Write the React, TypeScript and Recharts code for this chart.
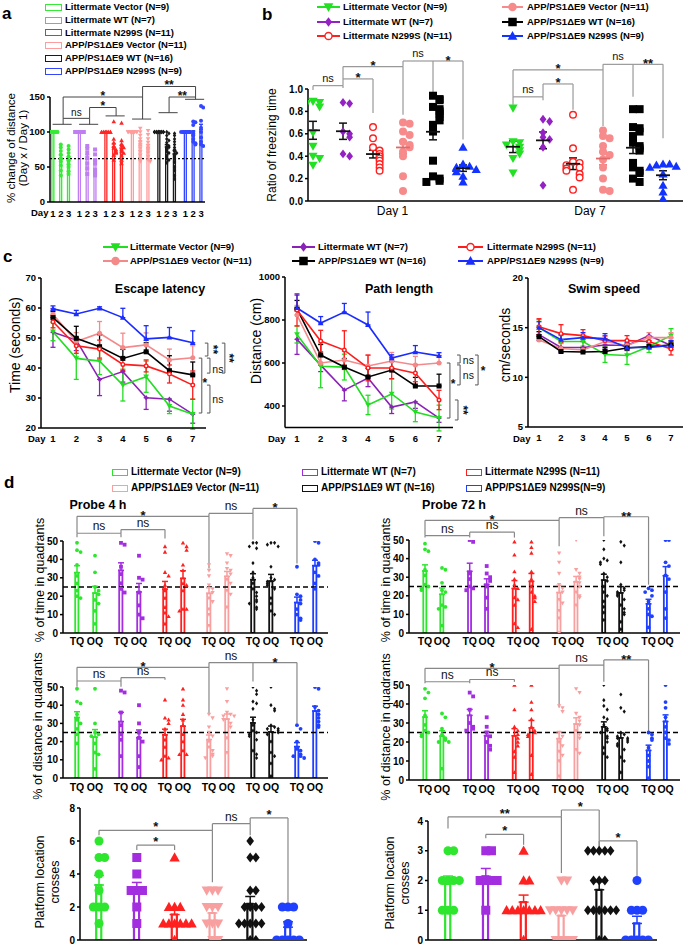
import React from 'react';
import {
  ComposedChart, Bar, Line, Scatter, XAxis, YAxis, ReferenceLine, ReferenceDot, ErrorBar, Cell,
} from 'recharts';

const FONT = '"Liberation Sans", Arial, Helvetica, sans-serif';
const AXIS = { stroke: '#000', strokeWidth: 1.5 };

// group order in every list: Littermate Vector, Littermate WT, Littermate N299S,
// APP/PS1ΔE9 Vector, APP/PS1ΔE9 WT, APP/PS1ΔE9 N299S
const groupLabels = [
  'Littermate Vector (N=9)',
  'Littermate WT (N=7)',
  'Littermate N299S (N=11)',
  'APP/PS1ΔE9 Vector (N=11)',
  'APP/PS1ΔE9 WT (N=16)',
  'APP/PS1ΔE9 N299S (N=9)',
];
const groupLabelsD = [...groupLabels.slice(0, 5), 'APP/PS1ΔE9 N299S(N=9)'];

const colA = ['#35ea35', '#bf7ff0', '#ff2626', '#ff9d9d', '#1a1a1a', '#3346ff'];
const colB = ['#22e022', '#9421c4', '#ff2020', '#f78b8b', '#000000', '#1232ff'];
const colC = ['#22dd22', '#8a22b8', '#ff1c1c', '#f4898a', '#000000', '#1a2cff'];
const colD = ['#2ee62e', '#a22ee0', '#ff2020', '#f8a0a0', '#111111', '#2040ff'];
const barMarks = ['circle', 'square', 'tri', 'triDown', 'diamond', 'circle'];
const lineMarks = ['triDown', 'diamond', 'ring', 'circle', 'square', 'tri'];

// ---- a: % change of distance (Day x / Day 1)
const aDayLabels = ['1', '2', '3'];
const aDay1 = [
  [100, 100, 100, 100, 100, 100, 100, 100, 100],
  [100, 100, 100, 100, 100, 100, 100],
  [100, 100, 100, 100, 100, 100, 100, 100, 100, 100, 100],
  [100, 100, 100, 100, 100, 100, 100, 100, 100, 100, 100],
  [100, 100, 100, 100, 100, 100, 100, 100, 100, 100, 100, 100, 100, 100, 100, 100],
  [100, 100, 100, 100, 100, 100, 100, 100, 100],
];
const aDay2 = [
  [82, 78, 73, 68, 63, 58, 52, 45, 38],
  [80, 76, 70, 63, 55, 48, 40],
  [115, 90, 85, 80, 77, 75, 73, 71, 70, 67, 60],
  [105, 100, 95, 90, 86, 82, 77, 72, 67, 62, 58],
  [100, 98, 95, 90, 88, 85, 82, 80, 78, 75, 72, 70, 66, 62, 60, 56],
  [115, 114, 110, 100, 95, 90, 86, 84, 82],
];
const aDay3 = [
  [80, 75, 70, 65, 59, 54, 50, 44, 40],
  [75, 68, 60, 55, 46, 42, 38],
  [113, 88, 83, 80, 78, 75, 72, 70, 66, 60, 55],
  [102, 96, 90, 85, 80, 77, 74, 70, 65, 60, 58],
  [98, 95, 90, 86, 82, 78, 75, 72, 70, 66, 62, 57, 50, 45, 38, 33],
  [137, 135, 116, 106, 100, 92, 86, 82, 80],
];
const aCaps = [111, 111, 123, 118.5, 127.6, 146.7];
const aBr = [
  [0, 1, 119.5, 111, 111, 'ns'],
  [1, 2, 135, 119.5, 123, '*'],
  [0, 3, 150, 119.5, 118.5, '*'],
  [3, 5, 165, 150, 150, '**'],
  [4, 5, 150, 127.6, 146.7, '**'],
];

// ---- b: ratio of freezing time
const bDayLabels = ['Day 1', 'Day 7'];
const bDay1 = [
  [0.89, 0.88, 0.87, 0.84, 0.61, 0.49, 0.40, 0.38, 0.32],
  [0.88, 0.87, 0.62, 0.60, 0.57, 0.42, 0.40],
  [0.66, 0.56, 0.48, 0.45, 0.42, 0.40, 0.38, 0.36, 0.33, 0.30, 0.27],
  [0.70, 0.69, 0.62, 0.59, 0.53, 0.50, 0.48, 0.44, 0.40, 0.22, 0.09],
  [0.94, 0.91, 0.90, 0.84, 0.82, 0.80, 0.78, 0.75, 0.72, 0.68, 0.62, 0.36, 0.22, 0.20, 0.18, 0.17],
  [0.48, 0.33, 0.31, 0.30, 0.29, 0.28, 0.26, 0.22, 0.17],
];
const bDay7 = [
  [0.83, 0.53, 0.52, 0.50, 0.48, 0.45, 0.42, 0.38, 0.25],
  [0.73, 0.71, 0.61, 0.57, 0.55, 0.48, 0.14],
  [0.77, 0.47, 0.35, 0.34, 0.32, 0.30, 0.29, 0.27, 0.24, 0.21, 0.10],
  [0.63, 0.58, 0.56, 0.49, 0.44, 0.41, 0.37, 0.30, 0.20, 0.10, 0.09],
  [0.82, 0.82, 0.66, 0.65, 0.62, 0.58, 0.52, 0.49, 0.47, 0.45, 0.34, 0.30, 0.27, 0.25, 0.20, 0.17],
  [0.33, 0.33, 0.32, 0.31, 0.30, 0.24, 0.14, 0.08, 0.02],
];
const bBr = [
  [0, 1, 1.03, 0.99, 1.01, 'ns'],
  [1, 2, 1.09, 1.03, 0.785, '*'],
  [1, 3, 1.2, 1.09, 0.77, '*'],
  [3, 4, 1.25, 1.2, 0.96, 'ns'],
  [4, 5, 1.25, 1.25, 0.55, '*'],
  [6.667, 7.667, 0.93, 0.86, 0.9, 'ns'],
  [7.667, 8.667, 1.045, 0.93, 0.815, '*'],
  [6.667, 9.667, 1.17, 0.93, 0.67, '*'],
  [9.667, 10.667, 1.22, 1.17, 0.93, 'ns'],
  [10.667, 11.667, 1.22, 1.22, 0.56, '**'],
];

// ---- c: water maze, days 1..7
const days = [1, 2, 3, 4, 5, 6, 7];
const errSide = ['both', 'down', 'both', 'up', 'up', 'up'];
const escMean = [
  [52.1, 43.2, 42.3, 34.3, 37.1, 27.3, 24.6],
  [51.9, 49.3, 36.2, 38.8, 30.1, 29.6, 24.6],
  [55.4, 47.4, 46.3, 41.2, 40.7, 38.0, 34.3],
  [57.9, 48.8, 51.6, 46.8, 47.7, 42.7, 43.4],
  [56.8, 49.9, 47.1, 43.2, 45.4, 39.1, 37.7],
  [59.7, 58.0, 59.9, 56.8, 49.7, 50.2, 48.4],
];
const escErr = [
  [3, 7, 4.5, 5.3, 5.2, 2.5, 5],
  [5, 3.5, 5.4, 3.5, 3.9, 4, 3],
  [2, 2.5, 3, 2, 2, 3, 4.7],
  [2, 3, 3.9, 4.8, 4, 3.6, 4],
  [2, 4, 4, 3, 3, 5, 4.3],
  [1, 1.2, 0.5, 3.1, 4.4, 3.3, 4],
];
const pathMean = [
  [733, 585, 581, 405, 456, 372, 344],
  [710, 590, 474, 530, 395, 419, 344],
  [847, 702, 660, 577, 577, 553, 428],
  [823, 600, 614, 586, 609, 591, 600],
  [851, 637, 581, 535, 567, 493, 493],
  [856, 786, 837, 777, 623, 651, 633],
];
const pathErr = [
  [40, 100, 60, 45, 70, 45, 60],
  [70, 30, 50, 40, 30, 30, 20],
  [75, 50, 90, 60, 50, 40, 45],
  [45, 40, 40, 50, 40, 40, 35],
  [40, 50, 40, 40, 40, 40, 55],
  [60, 30, 40, 60, 15, 30, 15],
];
const swimMean = [
  [15.0, 13.6, 13.6, 12.3, 12.2, 13.1, 14.2],
  [14.3, 13.0, 13.0, 13.25, 13.2, 14.2, 13.2],
  [15.1, 14.4, 14.2, 13.7, 13.7, 13.6, 12.85],
  [13.75, 12.9, 12.75, 13.6, 13.2, 14.0, 14.0],
  [14.1, 12.6, 12.55, 12.6, 12.95, 13.1, 13.25],
  [15.0, 13.8, 14.0, 13.9, 13.0, 13.0, 13.2],
];
const swimErr = [
  [0.8, 0.6, 0.5, 0.8, 0.9, 0.6, 0.7],
  [0.6, 0.5, 0.4, 0.4, 0.5, 0.5, 0.4],
  [0.8, 0.9, 0.6, 0.5, 0.5, 0.5, 0.6],
  [0.5, 0.5, 0.4, 0.5, 0.5, 0.5, 0.5],
  [0.5, 0.4, 0.4, 0.4, 0.4, 0.4, 0.4],
  [0.6, 0.5, 0.5, 0.5, 0.5, 0.5, 0.5],
];
const escBr = [
  [7.65, 48.3, 44, '**', 7.87, 46.2, true],
  [8.38, 48.3, 38.3, '**', 8.56, 43.3, true],
  [7.74, 43.3, 38.3, 'ns', 8.08, 39.6, false],
  [7.39, 43.3, 25, '*', 7.52, 35, false],
  [7.74, 34.3, 25, 'ns', 8.08, 29.6, false],
];
const pathBr = [
  [7.89, 637, 600, 'ns', 8.24, 612, false],
  [7.89, 591, 498, 'ns', 8.24, 542, false],
  [8.65, 637, 498, '*', 8.86, 565, false],
  [7.46, 600, 344, '*', 7.59, 505, false],
  [7.8, 428, 335, '**', 8.01, 381, true],
];

// ---- d: probe trials, TQ / OQ
const quadLabels = ['TQ', 'OQ'];
const p4TimeTQ = [
  [49, 45, 44, 37, 31, 27, 23, 20, 19],
  [49, 48, 36, 32, 27, 24, 22],
  [47, 44, 33, 31, 26, 23, 19, 14, 11, 9, 5],
  [37, 34, 31, 26, 24, 22, 19, 17, 13, 10, 4],
  [49, 49, 47, 46, 38, 33, 30, 27, 24, 22, 20, 18, 17, 16, 14, 13],
  [36, 21, 20, 18, 16, 13, 10, 8, 7],
];
const p4TimeOQ = [
  [42, 33, 25, 23, 21, 18, 16, 12, 5],
  [42, 30, 29, 22, 15, 10, 8],
  [49, 47, 45, 37, 34, 27, 26, 23, 13, 13, 12],
  [43, 42, 38, 35, 34, 32, 29, 27, 23, 21, 14],
  [49, 49, 48, 47, 36, 30, 29, 28, 27, 26, 24, 19, 16, 12, 10, 0],
  [50, 49, 40, 38, 37, 33, 31, 27, 24],
];
const p4DistTQ = [
  [49, 42, 41, 35, 32, 30, 27, 24, 19],
  [48, 47, 36, 29, 24, 21, 12],
  [43, 33, 32, 30, 27, 24, 21, 17, 12, 11, 10],
  [35, 33, 28, 25, 23, 20, 17, 15, 13, 12, 11],
  [50, 48, 46, 42, 41, 38, 32, 29, 26, 25, 24, 23, 21, 15, 13, 11],
  [29, 27, 20, 16, 15, 13, 12, 12, 11],
];
const p4DistOQ = [
  [49, 30, 25, 24, 23, 19, 14, 13, 5],
  [40, 30, 25, 22, 20, 12, 6],
  [49, 43, 40, 35, 32, 29, 24, 20, 15, 13, 13],
  [49, 42, 36, 35, 34, 34, 32, 30, 28, 22, 14],
  [50, 40, 38, 37, 29, 28, 27, 27, 26, 25, 24, 20, 14, 12, 8, 1],
  [50, 49, 39, 37, 35, 33, 31, 29, 28],
];
const p72TimeTQ = [
  [48, 45, 44, 34, 31, 26, 25, 24, 23],
  [50, 49, 32, 29, 25, 24, 23],
  [49, 42, 33, 29, 26, 24, 19, 18, 15, 5, 3],
  [43, 38, 32, 26, 24, 22, 18, 16, 12, 8, 0],
  [50, 45, 40, 39, 38, 37, 32, 30, 28, 25, 22, 20, 17, 14, 11, 7],
  [24, 23, 22, 20, 17, 13, 10, 9, 3],
];
const p72TimeOQ = [
  [35, 34, 27, 23, 22, 15, 14, 13, 4],
  [36, 32, 30, 28, 25, 19, 13],
  [49, 46, 43, 33, 29, 25, 22, 20, 19, 17, 2],
  [50, 34, 32, 30, 29, 27, 25, 22, 20, 19, 15],
  [49, 47, 38, 26, 24, 23, 22, 21, 20, 18, 15, 13, 11, 10, 6, 2],
  [50, 50, 38, 36, 31, 29, 22, 13, 8],
];
const p72DistTQ = [
  [48, 46, 43, 34, 29, 26, 25, 24, 23],
  [46, 44, 37, 30, 28, 27, 26],
  [50, 37, 28, 26, 24, 22, 20, 18, 15, 12, 4],
  [39, 38, 36, 25, 23, 20, 18, 15, 13, 10, 2],
  [50, 42, 39, 37, 33, 32, 29, 27, 26, 25, 23, 22, 20, 17, 14, 12],
  [25, 24, 22, 21, 17, 13, 10, 7, 1],
];
const p72DistOQ = [
  [35, 33, 27, 24, 22, 21, 20, 20, 6],
  [33, 28, 25, 23, 20, 18, 16],
  [50, 41, 37, 32, 28, 26, 25, 24, 23, 13, 3],
  [48, 46, 35, 33, 31, 29, 26, 24, 22, 16, 14],
  [45, 38, 36, 25, 24, 23, 22, 22, 21, 20, 19, 18, 16, 12, 10, 4],
  [50, 41, 38, 33, 28, 25, 22, 21, 19],
];
const p4Cross = [
  [6, 5, 5, 4, 3, 2, 2, 2, 1],
  [5, 4, 3, 3, 3, 2, 1],
  [5, 2, 2, 2, 1, 1, 1, 1, 1, 1, 0],
  [3, 3, 3, 2, 2, 2, 1, 1, 1, 0, 0],
  [6, 5, 5, 3, 3, 2, 2, 2, 2, 1, 1, 1, 1, 1, 0, 0],
  [2, 2, 2, 1, 0, 0, 0, 0, 0],
];
const p72Cross = [
  [3, 3, 2, 2, 2, 2, 1, 1, 1],
  [3, 3, 2, 2, 2, 2, 1],
  [3, 2, 2, 1, 1, 1, 1, 1, 1, 1, 0],
  [2, 2, 1, 1, 1, 1, 1, 0, 0, 0, 0],
  [3, 3, 3, 3, 3, 2, 2, 2, 1, 1, 1, 1, 1, 1, 0, 0],
  [2, 1, 1, 1, 0, 0, 0, 0, 0],
];
const p4TimeBr = [[0, 1, 54.2, 52, 52, 'ns'], [1, 2, 56.2, 54.2, 51.3, 'ns'], [0, 3, 63.4, 54.2, 35, '*'], [3, 4, 65, 63.4, 50.8, 'ns'], [4, 5, 67.7, 65, 37.8, '*']];
const p4DistBr = [[0, 1, 53.3, 50.2, 50.2, 'ns'], [1, 2, 55.2, 53.3, 54, 'ns'], [0, 3, 60.8, 53.3, 35.5, '*'], [3, 4, 63.4, 60.8, 53, 'ns'], [4, 5, 63.4, 63.4, 30, '*']];
const p72TimeBr = [[0, 1, 52.4, 51.3, 51.3, 'ns'], [1, 2, 54.2, 52.4, 51.3, 'ns'], [0, 3, 60.6, 52.4, 46.7, '*'], [3, 4, 62, 60.6, 52, 'ns'], [4, 5, 62.5, 62, 26, '**']];
const p72DistBr = [[0, 1, 51.7, 50.9, 50.9, 'ns'], [1, 2, 52.9, 51.7, 51.7, 'ns'], [0, 3, 58.8, 51.7, 38.2, '*'], [3, 4, 60.5, 58.8, 51.7, 'ns'], [4, 5, 63.2, 60.5, 25.4, '**']];
const p4CrossBr = [[0, 3, 6.65, 6.35, 3.5, '*'], [1, 2, 5.75, 5.45, 5.45, '*'], [3, 4, 7.05, 6.65, 6.35, 'ns'], [4, 5, 7.4, 7.05, 2.2, '*']];
const p72CrossBr = [[0, 3, 4.14, 3.75, 2.25, '**'], [1, 2, 3.55, 3.42, 3.2, '*'], [3, 4, 4.37, 4.14, 3.03, '*'], [4, 5, 3.33, 3.03, 2.14, '*']];

const brA = { stroke: '#444', width: 1, nsSize: 10, nsOff: 2, starSize: 12, starOff: -2.5 };
const brB = { stroke: '#999', width: 1.2, nsSize: 11, nsOff: 4, starSize: 13, starOff: -3.5 };
const brD = { stroke: '#888', width: 1.2, nsSize: 12, nsOff: 3, starSize: 13, starOff: -4 };
const brD2 = { ...brD, starOff: -1 };

const mean = (a: number[]) => a.reduce((s, v) => s + v, 0) / a.length;
const sem = (a: number[]) => {
  const m = mean(a);
  return Math.sqrt(a.reduce((s, v) => s + (v - m) ** 2, 0) / (a.length - 1) / a.length);
};

// horizontal offsets for overlapping dots (scatter column look)
const slots = [0, 1, -1, 2, -2, 3, -3];
function spread(values: number[], dv: number, step: number, cap = 5) {
  const seen: number[] = [];
  return values.map((v) => {
    const n = seen.filter((p) => Math.abs(p - v) < dv).length;
    seen.push(v);
    return slots[n % cap] * step;
  });
}

function Mark({ kind, cx, cy, s, c }: any) {
  if (cx == null || cy == null || isNaN(cx) || isNaN(cy)) return null;
  const h = s / 2;
  if (kind === 'square') return <rect x={cx - h} y={cy - h} width={s} height={s} fill={c} />;
  if (kind === 'ring') return <circle cx={cx} cy={cy} r={h - 0.7} fill="#fff" stroke={c} strokeWidth={1.4} />;
  if (kind === 'tri') {
    const r = h * 1.15;
    return <path d={`M${cx},${cy - r}L${cx + r},${cy + r * 0.75}L${cx - r},${cy + r * 0.75}Z`} fill={c} />;
  }
  if (kind === 'triDown') {
    const r = h * 1.15;
    return <path d={`M${cx},${cy + r}L${cx + r},${cy - r * 0.75}L${cx - r},${cy - r * 0.75}Z`} fill={c} />;
  }
  if (kind === 'diamond') {
    return <path d={`M${cx},${cy - h * 1.1}L${cx + h * 0.85},${cy}L${cx},${cy + h * 1.1}L${cx - h * 0.85},${cy}Z`} fill={c} />;
  }
  return <circle cx={cx} cy={cy} r={h} fill={c} />;
}

function Txt({ x, y, size, bold, anchor = 'middle', rotate, children, color = '#000' }: any) {
  const tx = anchor === 'start' ? '0' : anchor === 'end' ? '-100%' : '-50%';
  return (
    <div
      style={{
        position: 'absolute', left: x, top: y, whiteSpace: 'nowrap', lineHeight: 1, color,
        transform: `translate(${tx},-50%)${rotate ? ` rotate(${rotate}deg)` : ''}`,
        fontSize: size, fontWeight: bold ? 'bold' : 'normal', fontFamily: FONT,
      }}
    >
      {children}
    </div>
  );
}

function LegendBox({ x, y, w, h, color, text, tx, fs }: any) {
  return (
    <>
      <div style={{ position: 'absolute', left: x, top: y - h / 2, width: w, height: h, border: `1.6px solid ${color}`, boxSizing: 'border-box' }} />
      <Txt x={tx} y={y} size={fs} bold anchor="start">{text}</Txt>
    </>
  );
}

function LegendLine({ x1, x2, y, g, cols, text, tx, fs }: any) {
  const w = x2 - x1;
  return (
    <>
      <svg style={{ position: 'absolute', left: x1, top: y - 6 }} width={w} height={12}>
        <line x1={0} y1={6} x2={w} y2={6} stroke={cols[g]} strokeWidth={2} />
        <Mark kind={lineMarks[g]} cx={w / 2} cy={6} s={8.5} c={cols[g]} />
      </svg>
      <Txt x={tx} y={y} size={fs} bold anchor="start">{text}</Txt>
    </>
  );
}

function brackets(list: any[], xf: (v: number) => number, st: any) {
  return list.flatMap(([a, b, top, la, lb, txt]: any, i: number) => {
    const x1 = xf(a);
    const x2 = xf(b);
    const star = txt.startsWith('*');
    const line: any = { stroke: st.stroke, strokeWidth: st.width, ifOverflow: 'visible' };
    return [
      <ReferenceLine key={`l${i}`} segment={[{ x: x1, y: la }, { x: x1, y: top }]} {...line} />,
      <ReferenceLine
        key={`t${i}`}
        segment={[{ x: x1, y: top }, { x: x2, y: top }]}
        {...line}
        label={{
          value: txt, position: 'top', offset: star ? st.starOff : st.nsOff,
          fontSize: star ? st.starSize : st.nsSize, fontWeight: star ? 'bold' : 'normal', fill: '#111', fontFamily: FONT,
        }}
      />,
      <ReferenceLine key={`r${i}`} segment={[{ x: x2, y: lb }, { x: x2, y: top }]} {...line} />,
    ];
  });
}

function vbrackets(list: any[], tick: number) {
  return list.flatMap(([x, ya, yb, txt, lx, ly, rot]: any, i: number) => {
    const star = txt.startsWith('*');
    const line: any = { stroke: '#555', strokeWidth: 1, ifOverflow: 'visible' };
    return [
      <ReferenceLine key={`v${i}`} segment={[{ x, y: ya }, { x, y: yb }]} {...line} />,
      <ReferenceLine key={`a${i}`} segment={[{ x: x - tick, y: ya }, { x, y: ya }]} {...line} />,
      <ReferenceLine key={`b${i}`} segment={[{ x: x - tick, y: yb }, { x, y: yb }]} {...line} />,
      <ReferenceDot
        key={`d${i}`} x={lx} y={ly} r={0} fill="none" stroke="none" ifOverflow="visible"
        label={{
          value: txt, position: 'center', angle: rot ? 90 : 0, fontSize: star ? 12 : 10.5,
          fontWeight: star ? 'bold' : 'normal', fill: '#111', fontFamily: FONT,
        }}
      />,
    ];
  });
}

function BarDots(props: any) {
  const {
    plot, m, cols, xDomain, xLabels, xTickFont = 10, xGap = 2, yDomain, yTicks, yFont = 10,
    barSize, barStroke, markSize, dv, step, errW, refY, refDash, brs, brX, brStyle, children,
  } = props;
  const [x0, y0, x1, y1] = plot;
  const W = x1 - x0 + m.l + m.r;
  const H = y1 - y0 + m.t + m.b;
  const rows = cols.map((c: any) => ({ pos: c.pos, mean: mean(c.values) }));
  return (
    <div style={{ position: 'absolute', left: x0 - m.l, top: y0 - m.t }}>
      <ComposedChart width={W} height={H} data={rows} margin={{ top: m.t, right: m.r, bottom: 0, left: 0 }}>
        <XAxis
          type="number" dataKey="pos" domain={xDomain} allowDataOverflow ticks={cols.map((c: any) => c.pos)} interval={0}
          tickFormatter={(v: any, i: number) => (xLabels ? xLabels[i] : '')}
          height={m.b} axisLine={AXIS} tickLine={false} tickSize={xGap} tickMargin={3}
          tick={{ fontSize: xTickFont, fontWeight: 'bold', fill: '#000', fontFamily: FONT }}
        />
        <YAxis
          type="number" domain={yDomain} allowDataOverflow ticks={yTicks} interval={0} width={m.l}
          axisLine={AXIS} tickLine={AXIS} tickSize={3} tickMargin={2}
          tick={{ fontSize: yFont, fontWeight: 'bold', fill: '#000', fontFamily: FONT }}
        />
        <Bar dataKey="mean" barSize={barSize} isAnimationActive={false}>
          {cols.map((c: any, i: number) => <Cell key={i} fill="#fff" stroke={c.color} strokeWidth={barStroke} />)}
        </Bar>
        {refY != null && <ReferenceLine y={refY} stroke="#000" strokeWidth={1.3} strokeDasharray={refDash} />}
        {cols.map((c: any, i: number) => (
          <Scatter
            key={`e${i}`} data={[{ pos: c.pos, v: mean(c.values), err: [0, sem(c.values)] }]} dataKey="v"
            isAnimationActive={false} shape={() => <g />}
          >
            <ErrorBar dataKey="err" direction="y" width={errW} stroke={c.color} strokeWidth={1.5} />
          </Scatter>
        ))}
        {cols.map((c: any, i: number) => {
          const off = spread(c.values, dv, step, c.cap || 5);
          return (
            <Scatter
              key={`d${i}`} data={c.values.map((v: number, j: number) => ({ pos: c.pos + off[j], v }))} dataKey="v"
              isAnimationActive={false}
              shape={(p: any) => <Mark kind={c.kind} cx={p.cx} cy={p.cy} s={markSize} c={c.color} />}
            />
          );
        })}
        {brackets(brs, brX, brStyle)}
        {children}
      </ComposedChart>
    </div>
  );
}

function FreezePanel() {
  const plot = [308, 89, 683, 201];
  const m = { t: 46, r: 2, b: 16, l: 40 };
  const groups: any[] = [];
  [bDay1, bDay7].forEach((day, di) => day.forEach((vals, g) => groups.push({ pos: g + di * 6.667, values: vals, g })));
  return (
    <div style={{ position: 'absolute', left: plot[0] - m.l, top: plot[1] - m.t }}>
      <ComposedChart width={plot[2] - plot[0] + m.l + m.r} height={plot[3] - plot[1] + m.t + m.b} margin={{ top: m.t, right: m.r, bottom: 0, left: 0 }}>
        <XAxis
          type="number" dataKey="pos" domain={[-0.167, 12.333]} allowDataOverflow ticks={[2.65, 9.23]} interval={0}
          tickFormatter={(v: any, i: number) => bDayLabels[i]} height={m.b} axisLine={AXIS} tickLine={false}
          tickSize={2} tickMargin={3} tick={{ fontSize: 12, fill: '#000', fontFamily: FONT }}
        />
        <YAxis
          type="number" domain={[0, 1]} allowDataOverflow ticks={[0, 0.2, 0.4, 0.6, 0.8, 1]} interval={0} width={m.l}
          tickFormatter={(v: number) => v.toFixed(1)} axisLine={AXIS} tickLine={AXIS} tickSize={3} tickMargin={2}
          tick={{ fontSize: 10, fontWeight: 'bold', fill: '#000', fontFamily: FONT }}
        />
        {groups.map((gr, i) => {
          const off = spread(gr.values, 0.035, 0.22);
          return (
            <Scatter
              key={`p${i}`} data={gr.values.map((v: number, j: number) => ({ pos: gr.pos + off[j], v }))} dataKey="v"
              isAnimationActive={false}
              shape={(p: any) => <Mark kind={lineMarks[gr.g]} cx={p.cx} cy={p.cy} s={8} c={colB[gr.g]} />}
            />
          );
        })}
        {groups.map((gr, i) => {
          const lc = gr.g === 3 ? '#e06a6a' : '#111';
          return (
            <Scatter
              key={`m${i}`} data={[{ pos: gr.pos, v: mean(gr.values), err: sem(gr.values) }]} dataKey="v"
              isAnimationActive={false}
              shape={(p: any) => <line x1={p.cx - 7} x2={p.cx + 7} y1={p.cy} y2={p.cy} stroke={lc} strokeWidth={1.8} />}
            >
              <ErrorBar dataKey="err" direction="y" width={4} stroke={lc} strokeWidth={1.5} />
            </Scatter>
          );
        })}
        {brackets(bBr, (v) => v, brB)}
      </ComposedChart>
    </div>
  );
}

const lineOrder = [1, 0, 3, 4, 2, 5];

function LinePanel({ plot, m, means, errs, xDomain, yDomain, yTicks, vbrs }: any) {
  const rows = days.map((d, j) => {
    const r: any = { day: d };
    means.forEach((mm: number[], g: number) => {
      const e = errs[g][j];
      r[`m${g}`] = mm[j];
      r[`e${g}`] = errSide[g] === 'up' ? [0, e] : errSide[g] === 'down' ? [e, 0] : [e, e];
    });
    return r;
  });
  return (
    <div style={{ position: 'absolute', left: plot[0] - m.l, top: plot[1] - m.t }}>
      <ComposedChart width={plot[2] - plot[0] + m.l + m.r} height={plot[3] - plot[1] + m.t + m.b} data={rows} margin={{ top: m.t, right: m.r, bottom: 0, left: 0 }}>
        <XAxis
          type="number" dataKey="day" domain={xDomain} allowDataOverflow ticks={days} interval={0} height={m.b}
          axisLine={AXIS} tickLine={false} tickSize={4} tickMargin={3.6}
          tick={{ fontSize: 9.5, fontWeight: 'bold', fill: '#000', fontFamily: FONT }}
        />
        <YAxis
          type="number" domain={yDomain} allowDataOverflow ticks={yTicks} interval={0} width={m.l}
          axisLine={AXIS} tickLine={AXIS} tickSize={3} tickMargin={2}
          tick={{ fontSize: 9.5, fontWeight: 'bold', fill: '#000', fontFamily: FONT }}
        />
        {lineOrder.map((g) => (
          <Line
            key={g} dataKey={`m${g}`} stroke={colC[g]} strokeWidth={1.6} isAnimationActive={false} activeDot={false}
            dot={(p: any) => <Mark key={`${g}-${p.index}`} kind={lineMarks[g]} cx={p.cx} cy={p.cy} s={5} c={colC[g]} />}
          >
            <ErrorBar dataKey={`e${g}`} direction="y" width={2.5} stroke={colC[g]} strokeWidth={1.3} />
          </Line>
        ))}
        {vbrackets(vbrs, 0.13)}
      </ComposedChart>
    </div>
  );
}

export default function App() {
  const aCols: any[] = [];
  aDay1.forEach((_, g) => [aDay1, aDay2, aDay3].forEach((day, d) =>
    aCols.push({ pos: g * 3.4 + d, values: day[g], color: colA[g], kind: barMarks[g] })));
  const aLabels = aCols.map((_, i) => aDayLabels[i % 3]);

  const quadCols = (tq: number[][], oq: number[][], pitch: number) => tq.flatMap((_, k) => [
    { pos: k * pitch, values: tq[k], color: colD[k], kind: barMarks[k] },
    { pos: k * pitch + 1, values: oq[k], color: colD[k], kind: barMarks[k] },
  ]);
  const crossCols = (vals: number[][]) => vals.map((v, k) => ({ pos: k, values: v, color: colD[k], kind: barMarks[k], cap: 7 }));
  const qLabels = quadLabels.concat(quadLabels, quadLabels, quadLabels, quadLabels, quadLabels);

  const quadCommon = {
    xLabels: qLabels, xTickFont: 10.5, yDomain: [0, 50], yTicks: [0, 10, 20, 30, 40, 50], yFont: 10,
    barSize: 12, barStroke: 1.8, markSize: 3.8, dv: 2.5, step: 0.2, errW: 3, refY: 25, refDash: '5 3', brStyle: brD,
  };
  const crossCommon = { barSize: 25, barStroke: 2.2, markSize: 9, dv: 0.5, step: 0.15, errW: 5, brStyle: brD2, xTickFont: 1 };

  return (
    <div style={{ position: 'absolute', left: 0, top: 0, width: 685, height: 947, background: '#fff', fontFamily: FONT, overflow: 'hidden' }}>
      {/* panel letters */}
      <Txt x={2} y={13} size={17} bold anchor="start">a</Txt>
      <Txt x={262} y={14} size={17} bold anchor="start">b</Txt>
      <Txt x={3} y={256} size={17} bold anchor="start">c</Txt>
      <Txt x={4} y={482} size={17} bold anchor="start">d</Txt>

      {/* ---------- a ---------- */}
      {groupLabels.map((t, g) => (
        <LegendBox key={`la${g}`} x={45} y={[7, 20, 32.5, 45, 58, 71][g]} w={17} h={7} color={colA[g]} text={t} tx={65} fs={9.5} />
      ))}
      <Txt x={12} y={148} size={11.5} rotate={-90}>% change of distance</Txt>
      <Txt x={24} y={148} size={11.5} rotate={-90}>(Day x / Day 1)</Txt>
      <Txt x={31} y={213} size={9.5} bold anchor="start">Day</Txt>
      <BarDots
        plot={[50, 97, 205, 202]} m={{ t: 26, r: 4, b: 16, l: 50 }} cols={aCols} xDomain={[-0.385, 19.51]}
        xLabels={aLabels} xTickFont={9.5} xGap={5} yDomain={[0, 150]} yTicks={[0, 50, 100, 150]} yFont={9.5}
        barSize={5.5} barStroke={1.3} markSize={4} dv={3} step={0.28} errW={2} refY={62} refDash="2 2"
        brs={aBr} brX={(g: number) => g * 3.4 + 1.3} brStyle={brA}
      >
        {aCaps.map((y, g) => (
          <ReferenceLine key={`cap${g}`} segment={[{ x: g * 3.4 - 0.05, y }, { x: g * 3.4 + 2.4, y }]} stroke="#444" strokeWidth={1} ifOverflow="visible" />
        ))}
      </BarDots>

      {/* ---------- b ---------- */}
      {groupLabels.map((t, g) => (
        <LegendLine
          key={`lb${g}`} x1={g < 3 ? 317 : 502} x2={g < 3 ? 340 : 523} y={[7, 22, 36][g % 3]} g={g} cols={colB}
          text={t} tx={g < 3 ? 343 : 527} fs={9.5}
        />
      ))}
      <Txt x={272} y={145} size={12} rotate={-90}>Ratio of freezing time</Txt>
      <FreezePanel />

      {/* ---------- c ---------- */}
      {groupLabels.map((t, g) => (
        <LegendLine
          key={`lc${g}`} x1={[103, 292, 458][g % 3]} x2={[128, 315, 483][g % 3]} y={g < 3 ? 247 : 261} g={g} cols={colC}
          text={t} tx={[130, 318, 487][g % 3]} fs={9.5}
        />
      ))}
      <Txt x={160} y={289} size={12.5} bold>Escape latency</Txt>
      <Txt x={399} y={289} size={12.5} bold>Path length</Txt>
      <Txt x={604} y={289} size={12.5} bold>Swim speed</Txt>
      <Txt x={15} y={345} size={14} rotate={-90}>Time (seconds)</Txt>
      <Txt x={256} y={341} size={14} rotate={-90}>Distance (cm)</Txt>
      <Txt x={505} y={345} size={14} rotate={-90}>cm/seconds</Txt>
      <Txt x={28} y={439} size={9.5} bold anchor="start">Day</Txt>
      <Txt x={268} y={439} size={9.5} bold anchor="start">Day</Txt>
      <Txt x={513} y={439} size={9.5} bold anchor="start">Day</Txt>
      <LinePanel
        plot={[41, 278, 206, 428]} m={{ t: 9, r: 32, b: 18, l: 40 }} means={escMean} errs={escErr}
        xDomain={[0.485, 7.57]} yDomain={[20, 70]} yTicks={[20, 30, 40, 50, 60, 70]} vbrs={escBr}
      />
      <LinePanel
        plot={[285, 277, 453, 427.5]} m={{ t: 9, r: 38, b: 18, l: 40 }} means={pathMean} errs={pathErr}
        xDomain={[0.493, 7.59]} yDomain={[300, 1000]} yTicks={[400, 600, 800, 1000]} vbrs={pathBr}
      />
      <LinePanel
        plot={[528, 278, 683, 427]} m={{ t: 9, r: 2, b: 18, l: 40 }} means={swimMean} errs={swimErr}
        xDomain={[0.5, 7.545]} yDomain={[5, 20]} yTicks={[5, 10, 15, 20]} vbrs={[]}
      />

      {/* ---------- d ---------- */}
      {groupLabelsD.map((t, g) => (
        <LegendBox
          key={`ld${g}`} x={[112, 302, 466][g % 3]} y={g < 3 ? 472 : 488} w={16} h={7} color={colD[g]} text={t}
          tx={[131, 321, 485][g % 3]} fs={10}
        />
      ))}
      <Txt x={98} y={505} size={12.5} bold>Probe 4 h</Txt>
      <Txt x={454} y={505} size={12.5} bold>Probe 72 h</Txt>
      <Txt x={40} y={580} size={12.5} rotate={-90}>% of time in quadrants</Txt>
      <Txt x={38} y={726} size={12.5} rotate={-90}>% of distance in quadrants</Txt>
      <Txt x={386} y={580} size={12.5} rotate={-90}>% of time in quadrants</Txt>
      <Txt x={386} y={727} size={12.5} rotate={-90}>% of distance in quadrants</Txt>
      <Txt x={40} y={882} size={12.5} rotate={-90}>Platform location</Txt>
      <Txt x={55} y={882} size={12.5} rotate={-90}>crosses</Txt>
      <Txt x={390} y={883} size={12.5} rotate={-90}>Platform location</Txt>
      <Txt x={405} y={883} size={12.5} rotate={-90}>crosses</Txt>

      <BarDots
        {...quadCommon} plot={[63, 541, 328, 633]} m={{ t: 48, r: 2, b: 16, l: 30 }}
        cols={quadCols(p4TimeTQ, p4TimeOQ, 2.444)} xDomain={[-0.778, 13.944]} xGap={2}
        brs={p4TimeBr} brX={(k: number) => k * 2.444}
      />
      <BarDots
        {...quadCommon} plot={[63, 687, 328, 778]} m={{ t: 42, r: 2, b: 18, l: 30 }}
        cols={quadCols(p4DistTQ, p4DistOQ, 2.444)} xDomain={[-0.778, 13.944]} xGap={3}
        brs={p4DistBr} brX={(k: number) => k * 2.444}
      />
      <BarDots
        {...quadCommon} plot={[409, 540, 680, 633]} m={{ t: 48, r: 2, b: 16, l: 30 }}
        cols={quadCols(p72TimeTQ, p72TimeOQ, 2.63)} xDomain={[-0.941, 15]} xGap={2}
        brs={p72TimeBr} brX={(k: number) => k * 2.63}
      />
      <BarDots
        {...quadCommon} plot={[409, 685, 680, 780]} m={{ t: 42, r: 2, b: 18, l: 30 }}
        cols={quadCols(p72DistTQ, p72DistOQ, 2.63)} xDomain={[-0.941, 15]} xGap={3}
        brs={p72DistBr} brX={(k: number) => k * 2.63}
      />
      <BarDots
        {...crossCommon} plot={[80, 808, 307, 940]} m={{ t: 16, r: 2, b: 7, l: 30 }}
        cols={crossCols(p4Cross)} xDomain={[-0.503, 5.503]} yDomain={[0, 8]} yTicks={[0, 2, 4, 6, 8]}
        brs={p4CrossBr} brX={(k: number) => k}
      />
      <BarDots
        {...crossCommon} plot={[428, 821, 657, 940]} m={{ t: 30, r: 2, b: 7, l: 30 }}
        cols={crossCols(p72Cross)} xDomain={[-0.529, 5.529]} yDomain={[0, 4]} yTicks={[0, 1, 2, 3, 4]}
        brs={p72CrossBr} brX={(k: number) => k}
      />
    </div>
  );
}
